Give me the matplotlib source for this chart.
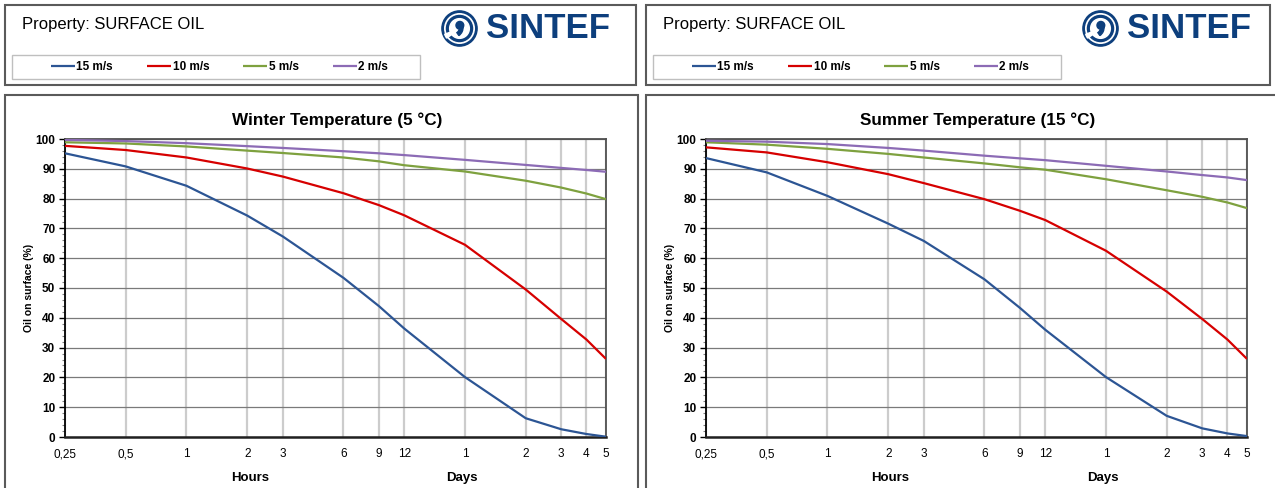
import matplotlib
matplotlib.use("Agg")
import matplotlib.pyplot as plt
from matplotlib.patches import Rectangle, Circle, Wedge
from matplotlib.ticker import FixedLocator, MultipleLocator, NullFormatter

plt.rcParams['font.family'] = ['Liberation Sans', 'DejaVu Sans']

# ---------------- data ----------------
hours = [0.25, 0.5, 1, 2, 3, 6, 9, 12, 24, 48, 72, 96, 120]
series_labels = ["15 m/s", "10 m/s", "5 m/s", "2 m/s"]

winter_15 = [95.2, 90.8, 84.3, 74.3, 67.3, 53.4, 43.9, 36.4, 20.1, 6.3, 2.6, 1.0, 0.1]
winter_10 = [97.7, 96.3, 93.8, 90.1, 87.4, 81.8, 77.8, 74.4, 64.5, 49.5, 39.6, 32.7, 26.2]
winter_5 = [98.9, 98.5, 97.5, 96.1, 95.3, 93.8, 92.5, 91.2, 89.1, 86.0, 83.7, 81.7, 79.8]
winter_2 = [99.7, 99.3, 98.6, 97.6, 97.0, 95.9, 95.2, 94.6, 93.0, 91.3, 90.3, 89.6, 89.0]

summer_15 = [93.6, 88.8, 80.9, 71.6, 65.8, 52.9, 43.3, 36.0, 20.1, 7.1, 2.9, 1.2, 0.3]
summer_10 = [97.2, 95.5, 92.2, 88.2, 85.2, 79.8, 75.9, 72.8, 62.5, 48.8, 39.6, 32.7, 26.2]
summer_5 = [98.9, 98.1, 96.7, 95.0, 93.8, 91.8, 90.5, 89.7, 86.5, 82.8, 80.6, 78.7, 76.8]
summer_2 = [99.4, 99.1, 98.3, 97.0, 96.1, 94.4, 93.5, 92.9, 91.0, 89.1, 87.9, 87.1, 86.2]

xtick_hours = [0.25, 0.5, 1, 2, 3, 6, 9, 12, 24, 48, 72, 96, 120]
xtick_labels = ["0,25", "0,5", "1", "2", "3", "6", "9", "12", "1", "2", "3", "4", "5"]

titles = ["Winter Temperature (5 °C)", "Summer Temperature (15 °C)"]
header_text = "Property: SURFACE OIL"
ylabel = "Oil on surface (%)"

colors = ["#2c5594", "#d60000", "#7ea13f", "#8c6bb5"]

W, H = 1275, 488
fig = plt.figure(figsize=(W / 100, H / 100), dpi=100)


def fx(x):
    return x / W


def fy(y):
    return 1 - y / H


def box(x0, y0, x1, y1, ec="#5a5a5a", lw=1.5):
    fig.add_artist(Rectangle((fx(x0), fy(y1)), fx(x1) - fx(x0), fy(y0) - fy(y1),
                             transform=fig.transFigure, fill=False, ec=ec, lw=lw))


def logo(x0, y0):
    blue = "#0d3f7d"
    la = fig.add_axes([fx(x0), fy(y0 + 37), 37 / W, 37 / H])
    la.set_xlim(-1.05, 1.05)
    la.set_ylim(-1.05, 1.05)
    la.set_aspect('equal')
    la.axis('off')
    la.add_patch(Circle((0, 0), 1.0, color=blue))
    la.add_patch(Circle((0, 0), 0.84, color="white"))
    la.add_patch(Circle((0, 0), 0.74, color=blue))
    la.add_patch(Circle((0, 0), 0.56, color="white"))
    la.add_patch(Wedge((0.05, 0.0), 0.95, 200, 215, color="white"))
    la.add_patch(Circle((0.02, 0.18), 0.22, color=blue))
    la.add_patch(Wedge((-0.35, 0.05), 0.55, -55, 5, width=0.2, color=blue))
    fig.text(fx(x0 + 45), fy(y0 + 19), "SINTEF", fontsize=25, fontweight='bold',
             color=blue, ha='left', va='center')


panels = [
    dict(x0=5, x1=636, cx1=638, ax_left=65, series=[winter_15, winter_10, winter_5, winter_2],
         title=titles[0], hours_x=250, days_x=462, logo_x=441),
    dict(x0=646, x1=1270, cx1=1290, ax_left=706, series=[summer_15, summer_10, summer_5, summer_2],
         title=titles[1], hours_x=890, days_x=1103, logo_x=1082),
]

ax_w = 541
ax_top, ax_bot = 139, 437

for p in panels:
    # header box
    box(p["x0"], 5, p["x1"], 85)
    fig.text(fx(p["x0"] + 17), fy(25), header_text, fontsize=12, ha='left', va='center')
    # legend box
    box(p["x0"] + 7, 55, p["x0"] + 415, 79, ec="#bfbfbf", lw=1.0)
    logo(p["logo_x"], 10)
    # chart box
    box(p["x0"], 95, p["cx1"], 520)
    fig.text(fx(p["x0"] + 332), fy(120), p["title"], fontsize=12.3, fontweight='bold',
             ha='center', va='center')

    ax = fig.add_axes([fx(p["ax_left"]), fy(ax_bot), ax_w / W, (ax_bot - ax_top) / H])
    lines = []
    for vals, c, lab in zip(p["series"], colors, series_labels):
        ln, = ax.plot(hours, vals, color=c, lw=1.6, label=lab, zorder=3, solid_capstyle='butt')
        lines.append(ln)
    ax.set_xscale('log')
    ax.set_xlim(0.25, 120)
    ax.set_ylim(0, 100)
    ax.xaxis.set_major_locator(FixedLocator(xtick_hours))
    ax.xaxis.set_minor_locator(FixedLocator([]))
    ax.xaxis.set_minor_formatter(NullFormatter())
    ax.set_xticklabels(xtick_labels)
    ax.yaxis.set_major_locator(MultipleLocator(10))
    ax.yaxis.set_minor_locator(MultipleLocator(2))
    ax.tick_params(axis='x', length=0, pad=8, labelsize=8.5, colors='#000000')
    ax.tick_params(axis='y', which='major', length=4, width=1, direction='out', labelsize=8.5, pad=3)
    ax.tick_params(axis='y', which='minor', length=2, width=0.8, direction='out', color='#808080')
    for lab in ax.get_yticklabels():
        lab.set_fontweight('bold')
    ax.grid(axis='y', which='major', color='#7a7a7a', lw=0.9, zorder=1)
    ax.grid(axis='x', which='major', color='#cccccc', lw=1.6, zorder=1)
    ax.set_axisbelow(True)
    for s in ['top', 'right']:
        ax.spines[s].set_color('#505050')
        ax.spines[s].set_linewidth(1.3)
    ax.spines['left'].set_color('#000000')
    ax.spines['left'].set_linewidth(1.3)
    ax.spines['bottom'].set_color('#202020')
    ax.spines['bottom'].set_linewidth(1.8)
    ax.set_ylabel(ylabel, fontsize=7.5, fontweight='bold', labelpad=1)

    fig.text(fx(p["hours_x"]), fy(478), "Hours", fontsize=9.5, fontweight='bold', ha='center', va='center')
    fig.text(fx(p["days_x"]), fy(478), "Days", fontsize=9.5, fontweight='bold', ha='center', va='center')

    # legend in header
    fig.legend(handles=lines, labels=series_labels, loc='center left',
               bbox_to_anchor=(fx(p["x0"] + 46), fy(67)), ncol=4, frameon=False,
               prop={'weight': 'bold', 'size': 8.5}, handlelength=2.0,
               handletextpad=0.15, columnspacing=2.9, borderaxespad=0, borderpad=0)

fig.savefig("out.png", dpi=100, facecolor='white')
